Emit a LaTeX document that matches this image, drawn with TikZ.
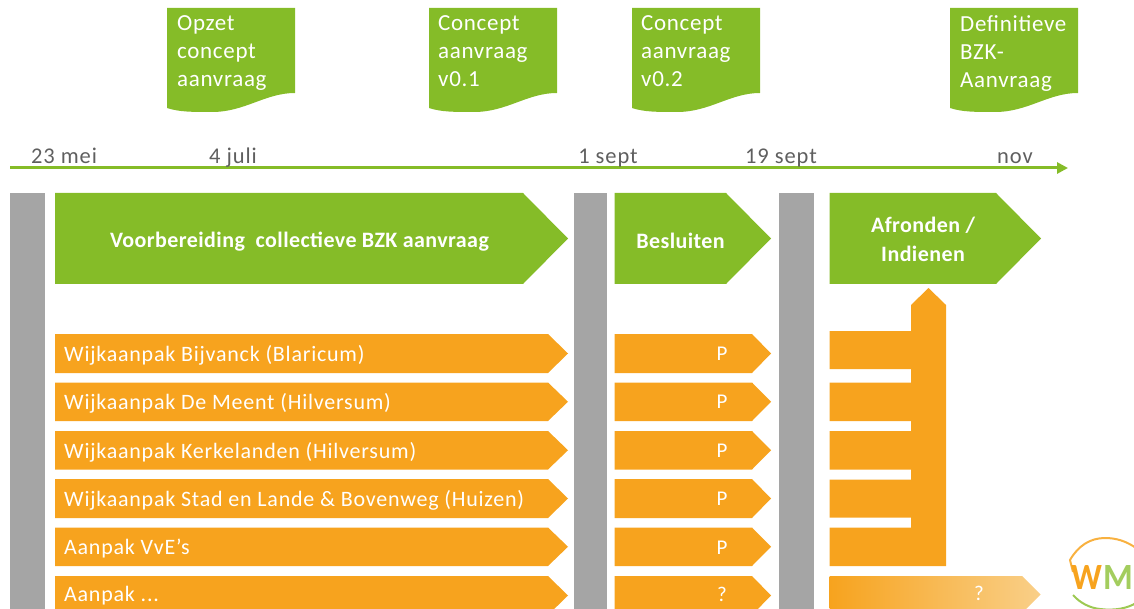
\documentclass[tikz,border=0pt]{standalone}
\usepackage{fontspec}
\setmainfont{Carlito}
\newfontfamily\wrow{Carlito}[LetterSpace=3.5]
\newfontfamily\wdoc{Carlito}[LetterSpace=3]
\newfontfamily\wdat{Carlito}[LetterSpace=4]
\newfontfamily\whead{Carlito}[LetterSpace=1.9]
\usetikzlibrary{arrows.meta,shadings}
\definecolor{wgreen}{HTML}{85BC28}
\definecolor{worange}{HTML}{F7A31E}
\definecolor{wgray}{HTML}{A5A5A5}
\definecolor{wdate}{HTML}{5F5F5F}
\definecolor{wfade}{HTML}{F9CF88}
\tikzset{
  x=1pt,y=-1pt,
  barshape/.style={fill=wgray,draw=none},
  chevgreen/.style={fill=wgreen,draw=none},
  chevorange/.style={fill=worange,draw=none},
  docshape/.style={fill=wgreen,draw=none},
  doctext/.style={anchor=north west,inner sep=0pt,text=white,font=\wdoc\fontsize{23}{28}\selectfont,align=left,text width=125pt},
  datetext/.style={inner sep=0pt,text=wdate,font=\wdat\fontsize{22.5}{24}\selectfont,anchor=base},
  headtext/.style={inner sep=0pt,text=white,font=\whead\bfseries\fontsize{22}{29}\selectfont,align=center},
  rowtext/.style={anchor=base west,inner sep=0pt,text=white,font=\wrow\fontsize{22}{24}\selectfont},
  marktext/.style={inner sep=0pt,text=white,font=\fontsize{21}{24}\selectfont},
}
\newcommand{\chev}[6]{\path[#6] (#1,#4) -- (#3,#4) -- (#2,{(#4+#5)/2}) -- (#3,#5) -- (#1,#5) -- cycle;}
\newcommand{\docu}[1]{\path[docshape] (#1,8) -- (#1+128,8) -- (#1+128,93) .. controls (#1+98,93) and (#1+78,112) .. (#1+45,112) .. controls (#1+25,112) and (#1+12,112) .. (#1,108) -- cycle;}
\begin{document}
\begin{tikzpicture}
\useasboundingbox (0,0) rectangle (1134,609);
\clip (0,0) rectangle (1134,609);
% documents
\docu{167}\docu{429}\docu{632}\docu{950}
\node[doctext] (d1) at (177,15.5) {Opzet\\concept\\aanvraag};
\node[doctext] (d2) at (438,15.5) {Concept\\aanvraag\\v0.1};
\node[doctext] (d3) at (641,15.5) {Concept\\aanvraag\\v0.2};
\node[doctext] (d4) at (960,15.5) {Definitieve\\BZK-\\Aanvraag};
% timeline
\coordinate (tstart) at (10,168);
\coordinate (tend) at (1068,168);
\draw[wgreen,line width=3pt,-{Triangle[length=11pt,width=11pt]}] (tstart) -- (tend);
\node[datetext] (t1) at (64,164) {23 mei};
\node[datetext] (t2) at (233,164) {4 juli};
\node[datetext] (t3) at (608,164) {1 sept};
\node[datetext] (t4) at (781,164) {19 sept};
\node[datetext] (t5) at (1015,164) {nov};
% gray bars
\path[barshape] (10,193) rectangle (45,609);
\path[barshape] (574,193) rectangle (607,609);
\path[barshape] (779,193) rectangle (814,609);
% phases
\chev{55}{568}{523}{193}{284}{chevgreen}
\chev{614.5}{771}{726}{193}{284}{chevgreen}
\chev{829.5}{1041}{996}{193}{284}{chevgreen}
\node[headtext] (h1) at (299.5,242) {Voorbereiding\ \ collectieve BZK aanvraag};
\node[headtext] (h2) at (680.5,241) {Besluiten};
\node[headtext] (h3) at (923,239) {Afronden /\\Indienen};
% rows
\foreach \ya/\yb in {334/373,382.5/421,431/469.5,479/518,527.5/566,576/615}{
  \chev{55}{568}{548}{\ya}{\yb}{chevorange}
  \chev{614.5}{771}{752}{\ya}{\yb}{chevorange}
}
\node[rowtext] (r1) at (64,361) {Wijkaanpak Bijvanck (Blaricum)};
\node[rowtext] (r2) at (64,409) {Wijkaanpak De Meent (Hilversum)};
\node[rowtext] (r3) at (64,458) {Wijkaanpak Kerkelanden (Hilversum)};
\node[rowtext] (r4) at (64,506) {Wijkaanpak Stad en Lande \& Bovenweg (Huizen)};
\node[rowtext] (r5) at (64,554) {Aanpak VvE’s};
\node[rowtext] (r6) at (64,601) {Aanpak ...};
\node[marktext] (p1) at (722,354) {P};
\node[marktext] (p2) at (722,402) {P};
\node[marktext] (p3) at (722,451) {P};
\node[marktext] (p4) at (722,499) {P};
\node[marktext] (p5) at (722,548) {P};
\node[marktext] (p6) at (722,594) {?};
% merge shape
\path[chevorange] (829.5,331) -- (911,331) -- (911,305) -- (928.5,288) -- (946,305) -- (946,566) -- (829.5,566) -- (829.5,527.5) -- (911,527.5) -- (911,517.5) -- (829.5,517.5) -- (829.5,479.5) -- (911,479.5) -- (911,469.5) -- (829.5,469.5) -- (829.5,431) -- (911,431) -- (911,421) -- (829.5,421) -- (829.5,382.5) -- (911,382.5) -- (911,369) -- (829.5,369) -- cycle;
% fading row
\path[left color=worange,right color=wfade] (829.5,576) -- (1022,576) -- (1040.5,594.5) -- (1022,613) -- (829.5,613) -- cycle;
\node[marktext] (q) at (979,593) {?};
% logo
\draw[worange!85,line width=2pt] (1073,572) -- (1070,560) .. controls (1078,546) and (1090,538) .. (1105,538) .. controls (1116,538) and (1126,541) .. (1136,548);
\draw[wgreen!80,line width=2pt] (1073,595) .. controls (1080,603) and (1090,608) .. (1100,609) .. controls (1115,611) and (1128,608) .. (1136,603);
\node[inner sep=0pt,anchor=base west,text=worange,font=\bfseries\fontsize{37}{38}\selectfont,xscale=.92] (lw) at (1071,589) {W};
\node[inner sep=0pt,anchor=base west,text=wgreen!75,font=\bfseries\fontsize{37}{38}\selectfont,xscale=.92] (lm) at (1103,589) {M};
\end{tikzpicture}
\end{document}
